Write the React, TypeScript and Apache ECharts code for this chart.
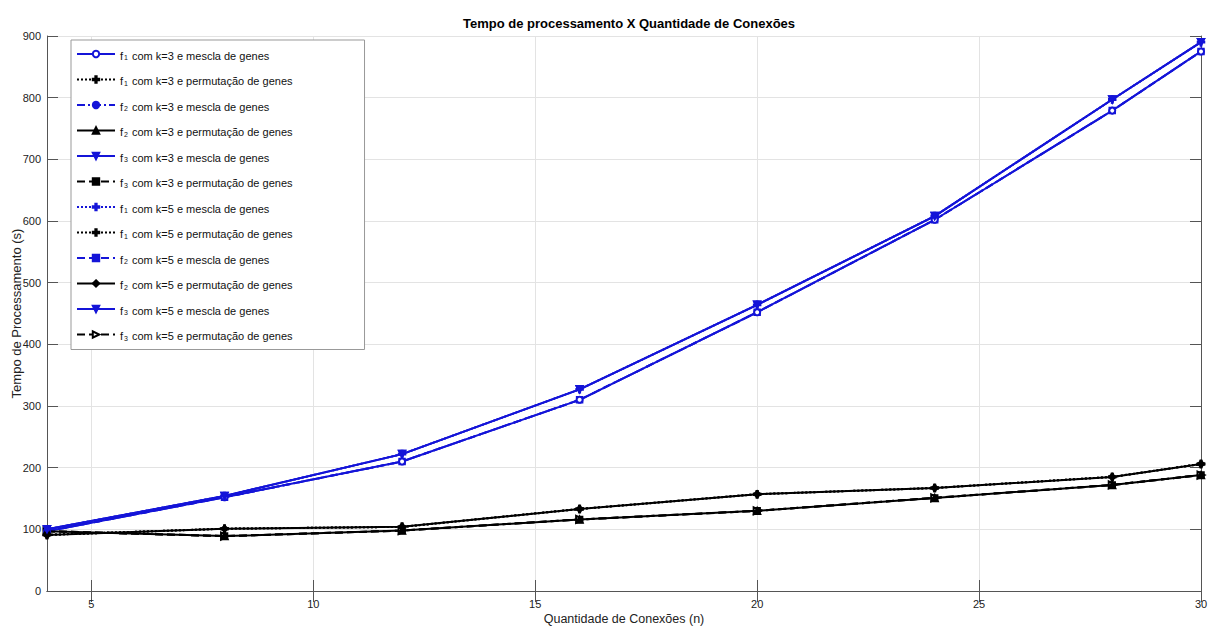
import { useEffect, useRef } from "react";
import * as echarts from "echarts";

const xValues = [4, 8, 12, 16, 20, 24, 28, 30];
const xTickValues = [5, 10, 15, 20, 25, 30];

const f1k3Mescla = [97, 152, 210, 310, 452, 602, 779, 875];
const f1k3Perm = [91, 101, 104, 133, 157, 167, 185, 206];
const f2k3Mescla = [97, 152, 210, 310, 452, 602, 779, 875];
const f2k3Perm = [97, 89, 98, 116, 130, 151, 172, 188];
const f3k3Mescla = [100, 154, 222, 327, 464, 608, 797, 890];
const f3k3Perm = [97, 89, 98, 116, 130, 151, 172, 188];
const f1k5Mescla = [100, 154, 222, 327, 464, 608, 797, 890];
const f1k5Perm = [91, 101, 104, 133, 157, 167, 185, 206];
const f2k5Mescla = [97, 152, 210, 310, 452, 602, 779, 875];
const f2k5Perm = [91, 101, 104, 133, 157, 167, 185, 206];
const f3k5Mescla = [100, 154, 222, 327, 464, 608, 797, 890];
const f3k5Perm = [97, 89, 98, 116, 130, 151, 172, 188];

const names = [
  "f1 com k=3 e mescla de genes",
  "f1 com k=3 e permutação de genes",
  "f2 com k=3 e mescla de genes",
  "f2 com k=3 e permutação de genes",
  "f3 com k=3 e mescla de genes",
  "f3 com k=3 e permutação de genes",
  "f1 com k=5 e mescla de genes",
  "f1 com k=5 e permutação de genes",
  "f2 com k=5 e mescla de genes",
  "f2 com k=5 e permutação de genes",
  "f3 com k=5 e mescla de genes",
  "f3 com k=5 e permutação de genes",
];

const BLUE = "#1414d8";
const BLACK = "#000000";
const PLUS = "path://M4,0H6V4H10V6H6V10H4V6H0V4H4Z";

export default function App() {
  const ref = useRef<HTMLDivElement>(null);
  useEffect(() => {
    if (!ref.current) return;
    const chart = echarts.init(ref.current, null, { renderer: "svg" });
    const mk = (
      name: string,
      values: number[],
      color: string,
      type: any,
      symbol: string,
      symbolSize: number,
      z: number,
      rotate = 0
    ) => ({
      name,
      type: "line",
      data: xValues.map((x, i) => [x, values[i]]),
      symbol,
      symbolSize,
      symbolRotate: rotate,
      showSymbol: true,
      z,
      lineStyle: { color, width: 2, type },
      itemStyle: { color, borderColor: color, borderWidth: 1.5 },
      emphasis: { disabled: true },
    });
    const series = [
      mk(names[0], f1k3Mescla, BLUE, "solid", "emptyCircle", 6, 5),
      mk(names[1], f1k3Perm, BLACK, "dotted", PLUS, 7, 2),
      mk(names[2], f2k3Mescla, BLUE, [8, 3, 2, 3], "none", 6, 2),
      mk(names[3], f2k3Perm, BLACK, "solid", "triangle", 7, 5),
      mk(names[4], f3k3Mescla, BLUE, "solid", "triangle", 7, 5, 180),
      mk(names[5], f3k3Perm, BLACK, "dashed", "rect", 6, 2),
      mk(names[6], f1k5Mescla, BLUE, "dotted", PLUS, 7, 2),
      mk(names[7], f1k5Perm, BLACK, "dotted", PLUS, 7, 2),
      mk(names[8], f2k5Mescla, BLUE, "dashed", "rect", 6, 2),
      mk(names[9], f2k5Perm, BLACK, "solid", "diamond", 7, 5),
      mk(names[10], f3k5Mescla, BLUE, "solid", "triangle", 7, 5, 180),
      mk(names[11], f3k5Perm, BLACK, "dashed", "emptyTriangle", 7, 2, -90),
    ];
    const axisLineStyle = { color: "#555", width: 1 };
    chart.setOption({
      animation: false,
      backgroundColor: "#fff",
      textStyle: { fontFamily: "Liberation Sans, Arial, sans-serif" },
      title: {
        text: "Tempo de processamento X Quantidade de Conexões",
        left: 624,
        textAlign: "center",
        top: 12,
        textStyle: { fontSize: 13, fontWeight: "bold", color: "#000", fontFamily: "Liberation Sans, Arial, sans-serif" },
      },
      legend: {
        data: names,
        orient: "vertical",
        left: 71,
        top: 40,
        padding: [8, 72, 8, 5],
        itemWidth: 38,
        itemHeight: 8,
        itemGap: 12.5,
        backgroundColor: "#fff",
        borderColor: "#999",
        borderWidth: 1,
        formatter: (name: string) => name.replace(/^f(\d)(.*)$/, "{n|f}{s|$1}{n|$2}"),
        textStyle: {
          color: "#111",
          fontSize: 11,
          rich: {
            n: { fontSize: 11, lineHeight: 14, verticalAlign: "bottom", color: "#111" },
            s: { fontSize: 7, lineHeight: 14, verticalAlign: "bottom", padding: [6, 1, 0, 1], color: "#111" },
          },
        },
      },
      grid: { left: 47, right: 8, top: 36, bottom: 35, containLabel: false, outerBoundsMode: "none" },
      xAxis: [
        {
          type: "value",
          min: 4,
          max: 30,
          name: "Quantidade de Conexões (n)",
          nameLocation: "middle",
          nameGap: 21,
          nameMoveOverlap: false,
          nameTextStyle: { fontSize: 12.5, color: "#222" },
          axisLine: { show: true, lineStyle: axisLineStyle },
          axisTick: { show: true, inside: true, length: 11, customValues: xTickValues, lineStyle: axisLineStyle },
          axisLabel: { customValues: xTickValues, fontSize: 11, color: "#222", margin: 7 },
          splitLine: { show: true, lineStyle: { color: "#e3e3e3", width: 1 } },
        },
        {
          type: "value",
          min: 4,
          max: 30,
          position: "top",
          axisLine: { show: true, lineStyle: axisLineStyle },
          axisTick: { show: true, inside: true, length: 11, customValues: xTickValues, lineStyle: axisLineStyle },
          axisLabel: { show: false },
          splitLine: { show: false },
        },
      ],
      yAxis: [
        {
          type: "value",
          min: 0,
          max: 900,
          interval: 100,
          name: "Tempo de Processamento (s)",
          nameLocation: "middle",
          nameGap: 24,
          nameMoveOverlap: false,
          nameTextStyle: { fontSize: 13, color: "#222" },
          axisLine: { show: true, lineStyle: axisLineStyle },
          axisTick: { show: true, inside: true, length: 11, lineStyle: axisLineStyle },
          axisLabel: { fontSize: 11, color: "#222", margin: 6 },
          splitLine: { show: true, lineStyle: { color: "#e3e3e3", width: 1 } },
        },
        {
          type: "value",
          min: 0,
          max: 900,
          interval: 100,
          position: "right",
          axisLine: { show: true, lineStyle: axisLineStyle },
          axisTick: { show: true, inside: true, length: 11, lineStyle: axisLineStyle },
          axisLabel: { show: false },
          splitLine: { show: false },
        },
      ],
      series,
    });
    return () => chart.dispose();
  }, []);
  return (
    <div
      ref={ref}
      style={{ position: "fixed", left: 0, top: 0, width: 1209, height: 626, background: "#fff" }}
    />
  );
}
